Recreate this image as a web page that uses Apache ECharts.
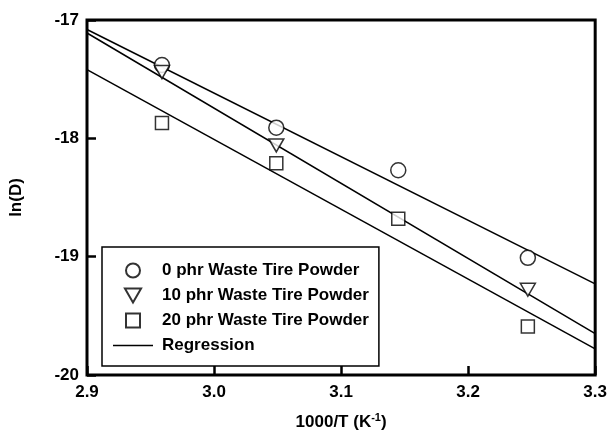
<!DOCTYPE html>
<html>
<head>
<meta charset="utf-8">
<script src="https://cdn.jsdelivr.net/npm/echarts@6/dist/echarts.min.js"></script>
<style>
    html, body { margin: 0; padding: 0; background: #fff; }
    #chart { width: 610px; height: 439px; }
</style>
</head>
<body>
<div id="chart"></div>
<script>
    // 1000/T values (K^-1)
    const invT = [2.959, 3.049, 3.145, 3.247];
    // ln(D) measured values
    const phr0 = [-17.38, -17.91, -18.27, -19.01];
    const phr10 = [-17.44, -18.06, null, -19.28];
    const phr20 = [-17.87, -18.21, -18.68, -19.59];
    // regression lines, value at x = 2.9 and x = 3.3
    const regX = [2.9, 3.3];
    const reg0 = [-17.08, -19.23];
    const reg10 = [-17.11, -19.65];
    const reg20 = [-17.42, -19.78];

    const font = 'Liberation Sans, Arial, sans-serif';

    function pts(ys) {
        return invT.map((x, i) => [x, ys[i]]);
    }
    function regPts(ys) {
        return regX.map((x, i) => [x, ys[i]]);
    }

    const markerStyle = { color: '#fff', borderColor: '#000', borderWidth: 1.5 };
    const regLine = (ys) => ({
        name: 'Regression',
        type: 'line',
        data: regPts(ys),
        symbol: 'none',
        silent: true,
        lineStyle: { color: '#000', width: 1.5 },
        itemStyle: { color: '#000' },
        z: 1
    });

    let myChart = echarts.init(document.getElementById('chart'));
    myChart.setOption({
        animation: false,
        backgroundColor: '#fff',
        grid: {
            left: 83, right: 13, top: 20, bottom: 64,
            show: true, borderColor: '#000', borderWidth: 3
        },
        legend: {
            orient: 'vertical',
            left: 102, top: 247,
            padding: [15, 10, 12, 11],
            itemGap: 8,
            itemWidth: 40, itemHeight: 14,
            borderColor: '#000', borderWidth: 1.5,
            backgroundColor: '#fff',
            textStyle: { fontFamily: font, fontWeight: 'bold', fontSize: 17, color: '#000', padding: [0, 0, 0, 4] },
            data: [
                { name: '0 phr Waste Tire Powder', icon: 'path://M7,0A7,7,0,1,1,6.99,0Z' },
                { name: '10 phr Waste Tire Powder', icon: 'path://M0,0L15,0L7.5,13Z' },
                { name: '20 phr Waste Tire Powder', icon: 'path://M0,0L13,0L13,13L0,13Z' },
                { name: 'Regression', icon: 'path://M0,0L40,0L40,1.5L0,1.5Z', itemStyle: { color: '#000', borderWidth: 0 } }
            ]
        },
        xAxis: {
            type: 'value',
            min: 2.9, max: 3.3, interval: 0.1,
            name: '1000/T (K{sup|-1})',
            nameLocation: 'middle',
            nameGap: 37,
            nameTextStyle: {
                fontFamily: font, fontWeight: 'bold', fontSize: 17, color: '#000',
                rich: { sup: { fontFamily: font, fontWeight: 'bold', fontSize: 11, color: '#000', verticalAlign: 'top', padding: [0, 0, 9, 0] } }
            },
            axisLine: { show: false },
            axisTick: { inside: true, length: 9, lineStyle: { color: '#000', width: 2.5 } },
            axisLabel: {
                margin: 9, color: '#000', fontFamily: font, fontWeight: 'bold', fontSize: 17,
                formatter: v => v.toFixed(1)
            },
            splitLine: { show: false }
        },
        yAxis: {
            type: 'value',
            min: -20, max: -17, interval: 1,
            name: 'ln(D)',
            nameLocation: 'middle',
            nameGap: 62,
            nameTextStyle: { fontFamily: font, fontWeight: 'bold', fontSize: 17, color: '#000' },
            axisLine: { show: false },
            axisTick: { inside: true, length: 9, lineStyle: { color: '#000', width: 2.5 } },
            axisLabel: { margin: 8, color: '#000', fontFamily: font, fontWeight: 'bold', fontSize: 17 },
            splitLine: { show: false }
        },
        series: [
            regLine(reg0),
            regLine(reg10),
            regLine(reg20),
            {
                name: '0 phr Waste Tire Powder',
                type: 'scatter',
                data: pts(phr0),
                symbol: 'circle',
                symbolSize: 15,
                itemStyle: markerStyle,
                z: 3
            },
            {
                name: '10 phr Waste Tire Powder',
                type: 'scatter',
                data: pts(phr10),
                symbol: 'triangle',
                symbolRotate: 180,
                symbolSize: [15, 13],
                itemStyle: markerStyle,
                z: 4
            },
            {
                name: '20 phr Waste Tire Powder',
                type: 'scatter',
                data: pts(phr20),
                symbol: 'rect',
                symbolSize: 13,
                itemStyle: markerStyle,
                z: 3
            }
        ]
    });
</script>
</body>
</html>
